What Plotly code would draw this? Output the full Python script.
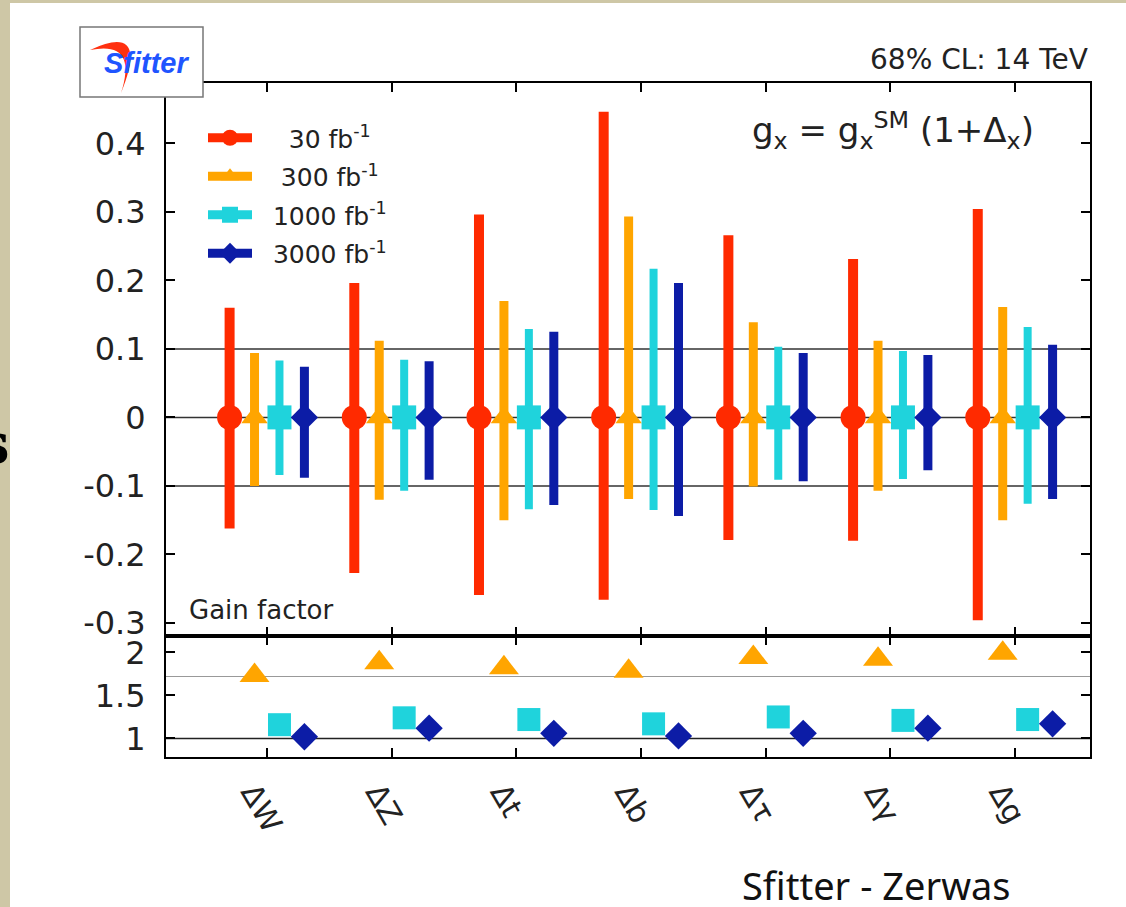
import plotly.graph_objects as go

# ---------------- data ----------------
categories = ["ΔW", "ΔZ", "Δt", "Δb", "Δτ", "Δγ", "Δg"]
series_names = ["30 fb<sup>-1</sup>", "300 fb<sup>-1</sup>", "1000 fb<sup>-1</sup>", "3000 fb<sup>-1</sup>"]

# central values (all zero) and 68% CL upper / lower errors
central = [0, 0, 0, 0, 0, 0, 0]
up_30 = [0.160, 0.196, 0.296, 0.446, 0.266, 0.231, 0.304]
dn_30 = [0.162, 0.227, 0.259, 0.266, 0.179, 0.180, 0.296]
up_300 = [0.094, 0.112, 0.170, 0.293, 0.139, 0.112, 0.161]
dn_300 = [0.100, 0.120, 0.150, 0.119, 0.101, 0.107, 0.150]
up_1000 = [0.083, 0.084, 0.129, 0.217, 0.103, 0.097, 0.132]
dn_1000 = [0.084, 0.107, 0.134, 0.135, 0.091, 0.090, 0.126]
up_3000 = [0.074, 0.082, 0.125, 0.196, 0.094, 0.091, 0.106]
dn_3000 = [0.088, 0.091, 0.128, 0.144, 0.093, 0.077, 0.119]

# gain factors (lower panel)
gain_300 = [1.73, 1.88, 1.82, 1.78, 1.94, 1.92, 1.99]
gain_1000 = [1.16, 1.24, 1.22, 1.17, 1.25, 1.21, 1.22]
gain_3000 = [1.02, 1.12, 1.06, 1.03, 1.06, 1.12, 1.17]
gain_ref = 1.72

y_ticks_main = [-0.3, -0.2, -0.1, 0, 0.1, 0.2, 0.3, 0.4]
y_ticks_main_text = ["-0.3", "-0.2", "-0.1", "0", "0.1", "0.2", "0.3", "0.4"]
y_ticks_gain = [1, 1.5, 2]
y_ticks_gain_text = ["1", "1.5", "2"]
main_hlines = [-0.1, 0, 0.1]

# ---------------- style ----------------
W, H = 1126, 907
ML, MR, MT, MB = 166, 36, 83, 150
PW, PH = W - ML - MR, H - MT - MB
SPLIT = (757 - 636) / PH

colors = ["#ff2a00", "#ffa500", "#1fd3dc", "#0c1ca6"]
symbols = ["circle", "triangle-up", "square", "diamond"]
sizes_main = [25, 23, 24, 21]
bar_w = [10, 9, 8, 9]
offsets = [-0.3, -0.1, 0.1, 0.3]
legend_pad = ["\u00a0\u00a0\u00a0\u00a0", "\u00a0\u00a0\u00a0", "\u00a0\u00a0", "\u00a0\u00a0"]
FONT = "DejaVu Sans"


def px(X):
    return (X - ML) / PW


def py(Y):
    return (H - MB - Y) / PH


xi = list(range(len(categories)))
ups = [up_30, up_300, up_1000, up_3000]
dns = [dn_30, dn_300, dn_1000, dn_3000]

fig = go.Figure()

for k in range(4):
    fig.add_trace(go.Scatter(
        x=[i + offsets[k] for i in xi], y=central, mode="markers",
        marker=dict(symbol=symbols[k], size=sizes_main[k], color=colors[k], line=dict(width=0)),
        error_y=dict(type="data", symmetric=False, array=ups[k], arrayminus=dns[k],
                     color=colors[k], thickness=bar_w[k], width=0),
        showlegend=False, xaxis="x", yaxis="y", hoverinfo="skip"))

# legend entries (bar + marker key)
for k in range(4):
    fig.add_trace(go.Scatter(
        x=[None], y=[None], mode="lines+markers", name=legend_pad[k] + series_names[k],
        legendgroup="g%d" % k,
        marker=dict(symbol=symbols[k], size=18, color=colors[k]),
        line=dict(color=colors[k], width=9),
        xaxis="x", yaxis="y"))

gains = [None, gain_300, gain_1000, gain_3000]
sizes_gain = [0, 26, 23, 21]
for k in range(1, 4):
    fig.add_trace(go.Scatter(
        x=[i + offsets[k] for i in xi], y=gains[k], mode="markers",
        marker=dict(symbol=symbols[k], size=sizes_gain[k], color=colors[k], line=dict(width=0)),
        showlegend=False, xaxis="x2", yaxis="y2", hoverinfo="skip"))

axis_common = dict(showline=True, linecolor="black", linewidth=2, mirror="ticks",
                   ticks="inside", ticklen=9, tickwidth=2, tickcolor="black",
                   showgrid=False, zeroline=False)

fig.update_layout(
    width=W, height=H,
    margin=dict(l=ML, r=MR, t=MT, b=MB),
    paper_bgcolor="white", plot_bgcolor="white",
    font=dict(family=FONT, color="#222"),
    xaxis=dict(domain=[0, 1], anchor="y", range=[-0.81, 6.60],
               tickvals=xi, showticklabels=False, **axis_common),
    yaxis=dict(domain=[SPLIT, 1], anchor="x", range=[-0.319, 0.488],
               tickvals=y_ticks_main, ticktext=y_ticks_main_text,
               tickfont=dict(size=32, family=FONT, color="#222"),
               ticklabelstandoff=12, **axis_common),
    xaxis2=dict(domain=[0, 1], anchor="y2", range=[-0.81, 6.60], matches="x",
                tickvals=xi, ticktext=categories, tickangle=60,
                tickfont=dict(size=30, family=FONT, color="#222"),
                ticklabelstandoff=4, ticklabelshift=-14, **axis_common),
    yaxis2=dict(domain=[0, SPLIT], anchor="x2", range=[0.785, 2.19],
                tickvals=y_ticks_gain, ticktext=y_ticks_gain_text,
                tickfont=dict(size=32, family=FONT, color="#222"),
                ticklabelstandoff=12, **axis_common),
    legend=dict(x=px(203), y=py(115), xanchor="left", yanchor="top",
                bgcolor="rgba(0,0,0,0)", borderwidth=0,
                font=dict(size=25, family=FONT, color="#222"),
                tracegroupgap=3, itemwidth=44),
)

shapes = []
for v in main_hlines:
    shapes.append(dict(type="line", xref="x domain", yref="y", x0=0, x1=1, y0=v, y1=v,
                       line=dict(color="#333", width=1.5), layer="below"))
shapes.append(dict(type="line", xref="x2 domain", yref="y2", x0=0, x1=1, y0=1, y1=1,
                   line=dict(color="#222", width=1.5), layer="below"))
shapes.append(dict(type="line", xref="x2 domain", yref="y2", x0=0, x1=1, y0=gain_ref, y1=gain_ref,
                   line=dict(color="#999", width=1.2), layer="below"))
# slide border
beige = "#cec7a6"
shapes.append(dict(type="rect", xref="paper", yref="paper", x0=px(0), x1=px(10), y0=py(H), y1=py(0),
                   fillcolor=beige, line=dict(width=0), layer="above"))
shapes.append(dict(type="rect", xref="paper", yref="paper", x0=px(0), x1=px(W), y0=py(3), y1=py(0),
                   fillcolor=beige, line=dict(width=0), layer="above"))
# logo box
shapes.append(dict(type="rect", xref="paper", yref="paper", x0=px(80), x1=px(203), y0=py(97), y1=py(27),
                   fillcolor="white", line=dict(color="#777", width=1.5), layer="above"))


def P(X, Y):
    return "%.5f,%.5f" % (px(X), py(Y))


swoosh = ("M" + P(90, 50) + " Q" + P(150, 22) + " " + P(121, 93) +
          " Q" + P(138, 40) + " " + P(90, 50) + " Z")
shapes.append(dict(type="path", xref="paper", yref="paper", path=swoosh,
                   fillcolor="#ff3010", line=dict(width=0), layer="above"))
fig.update_layout(shapes=shapes)

annotations = [
    dict(text="68% CL: 14 TeV", xref="paper", yref="paper", x=1, y=py(59),
         xanchor="right", yanchor="middle", showarrow=False,
         font=dict(size=28, family=FONT, color="#222")),
    dict(text="g<sub>x</sub> = g<sub>x</sub><sup>SM</sup> (1+Δ<sub>x</sub>)", xref="paper", yref="paper",
         x=px(750), y=py(130), xanchor="left", yanchor="middle", showarrow=False,
         font=dict(size=34, family=FONT, color="#222")),
    dict(text="Gain factor", xref="paper", yref="paper", x=px(187), y=py(610),
         xanchor="left", yanchor="middle", showarrow=False,
         font=dict(size=26, family=FONT, color="#222")),
    dict(text="Sfitter - Zerwas", xref="paper", yref="paper", x=px(740), y=py(885),
         xanchor="left", yanchor="middle", showarrow=False,
         font=dict(size=38, family="Noto Sans", color="#111")),
    dict(text="<b><i>Sfitter</i></b>", xref="paper", yref="paper", x=px(147), y=py(63),
         xanchor="center", yanchor="middle", showarrow=False,
         font=dict(size=29, family="Liberation Sans", color="#1f55ff")),
    dict(text="<b>s</b>", xref="paper", yref="paper", x=px(12), y=py(443),
         xanchor="right", yanchor="middle", showarrow=False,
         font=dict(size=56, family="DejaVu Serif", color="black")),
]
fig.update_layout(annotations=annotations)

fig.write_html("out.html", config={"displayModeBar": False},
               post_script="document.body.style.margin='0';")
